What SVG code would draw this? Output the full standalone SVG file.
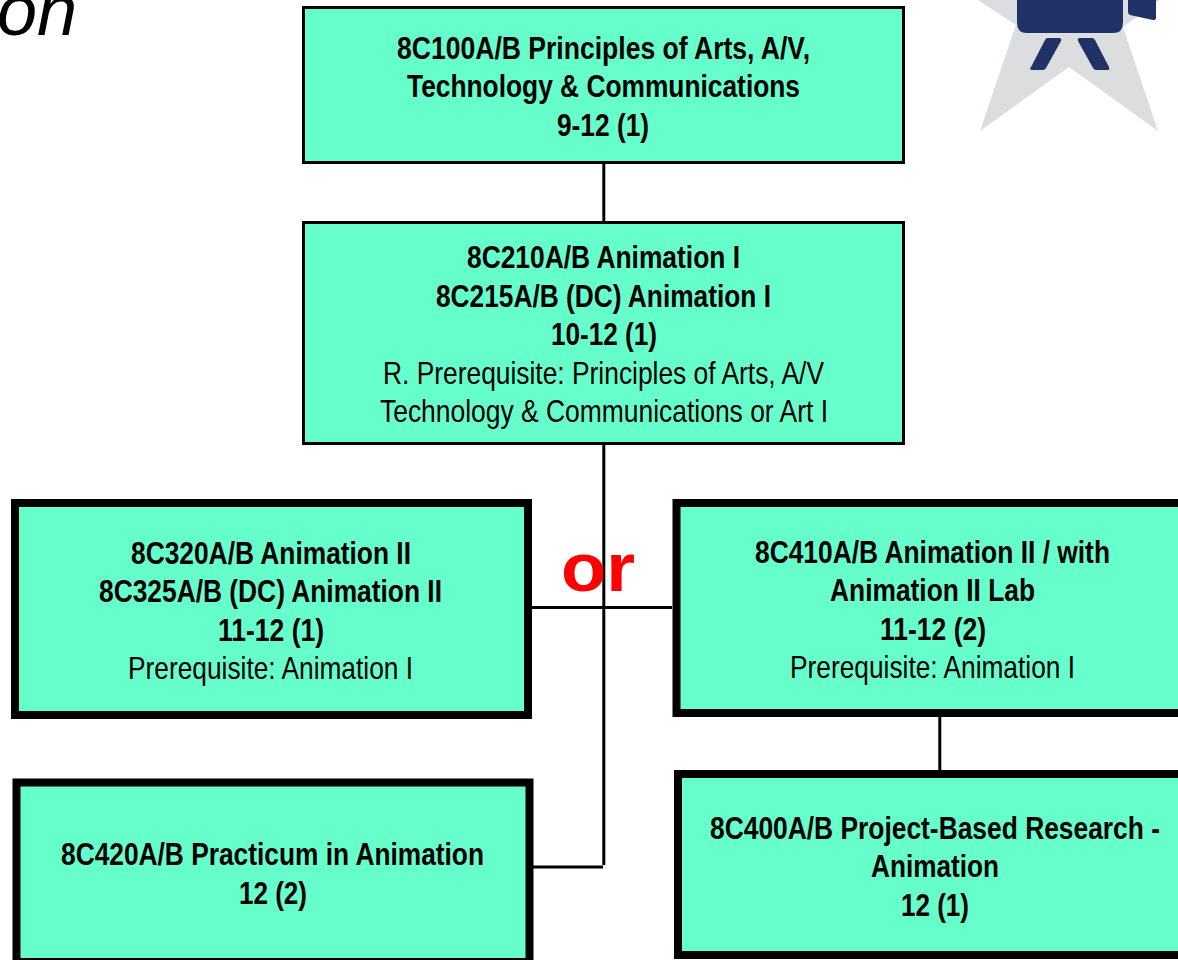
<svg xmlns="http://www.w3.org/2000/svg" width="1178" height="960" viewBox="0 0 1178 960">
<style>
.box{fill:#66ffcc;stroke:#000}
.thin{stroke-width:3}
.thick{stroke-width:8}
.conn{stroke:#000;stroke-width:3;fill:none}
.logo{fill:#203268}
text{font-family:"Liberation Sans",Arial,sans-serif;font-size:32px;fill:#000}
.b{font-weight:700}
</style>
<rect width="1178" height="960" fill="#fff"/>
<text x="-3" y="35" style="font-size:72px;font-style:italic">on</text>
<g id="logo">
<polygon points="978,0 1016,25 980,131 1069,67 1158,131 1123,27 1160,0" fill="#dcddde"/>
<path class="logo" d="M1017,0H1123V23Q1123,33 1113,33H1027Q1017,33 1017,23Z"/>
<path class="logo" d="M1128,0H1156V18Q1156,20 1153,20L1130,15Q1128,14 1128,12Z"/>
<path class="logo" d="M1047,38H1059Q1062,38 1061,41L1046,68Q1045,70 1043,70H1032Q1029,70 1031,67L1045,40Q1046,38 1047,38Z"/>
<path class="logo" d="M1080,38H1092Q1094,38 1095,40L1109,67Q1110,70 1108,70H1096Q1094,70 1093,68L1078,41Q1077,38 1080,38Z"/>
</g>
<g id="connectors">
<path class="conn" d="M603.800,164V221"/>
<path class="conn" d="M603.800,445V865"/>
<path class="conn" d="M532,607.500H672"/>
<path class="conn" d="M533,867H603"/>
<path class="conn" d="M939.800,717V770"/>
</g>
<g id="n100">
<rect class="box thin" x="303.500" y="7.500" width="600" height="155"/>
<text class="b" x="397" y="59" textLength="413" lengthAdjust="spacingAndGlyphs">8C100A/B Principles of Arts, A/V,</text>
<text class="b" x="407" y="97" textLength="393" lengthAdjust="spacingAndGlyphs">Technology &amp; Communications</text>
<text class="b" x="557" y="136" textLength="92" lengthAdjust="spacingAndGlyphs">9-12 (1)</text>
</g>
<g id="n210">
<rect class="box thin" x="303.500" y="222.500" width="600" height="221"/>
<text class="b" x="467" y="268" textLength="273" lengthAdjust="spacingAndGlyphs">8C210A/B Animation I</text>
<text class="b" x="436" y="307" textLength="335" lengthAdjust="spacingAndGlyphs">8C215A/B (DC) Animation I</text>
<text class="b" x="551" y="345" textLength="106" lengthAdjust="spacingAndGlyphs">10-12 (1)</text>
<text x="383" y="384" textLength="441" lengthAdjust="spacingAndGlyphs">R. Prerequisite: Principles of Arts, A/V</text>
<text x="380" y="422" textLength="448" lengthAdjust="spacingAndGlyphs">Technology &amp; Communications or Art I</text>
</g>
<g id="n320">
<rect class="box thick" x="15" y="503" width="513" height="212"/>
<text class="b" x="131" y="564" textLength="280" lengthAdjust="spacingAndGlyphs">8C320A/B Animation II</text>
<text class="b" x="99" y="602" textLength="343" lengthAdjust="spacingAndGlyphs">8C325A/B (DC) Animation II</text>
<text class="b" x="218" y="641" textLength="106" lengthAdjust="spacingAndGlyphs">11-12 (1)</text>
<text x="128" y="679" textLength="285" lengthAdjust="spacingAndGlyphs">Prerequisite: Animation I</text>
</g>
<g id="n410">
<path class="box thick" d="M1178,503H676.500V713H1178"/>
<text class="b" x="755" y="563" textLength="355" lengthAdjust="spacingAndGlyphs">8C410A/B Animation II / with</text>
<text class="b" x="830" y="601" textLength="205" lengthAdjust="spacingAndGlyphs">Animation II Lab</text>
<text class="b" x="880" y="640" textLength="106" lengthAdjust="spacingAndGlyphs">11-12 (2)</text>
<text x="790" y="678" textLength="285" lengthAdjust="spacingAndGlyphs">Prerequisite: Animation I</text>
</g>
<g id="n420">
<rect class="box thick" x="16.500" y="782.500" width="513" height="179.500"/>
<text class="b" x="61" y="865" textLength="423" lengthAdjust="spacingAndGlyphs">8C420A/B Practicum in Animation</text>
<text class="b" x="239" y="904" textLength="68" lengthAdjust="spacingAndGlyphs">12 (2)</text>
</g>
<g id="n400">
<path class="box thick" d="M1178,774H678V955H1178"/>
<text class="b" x="710" y="839" textLength="450" lengthAdjust="spacingAndGlyphs">8C400A/B Project-Based Research -</text>
<text class="b" x="871" y="877" textLength="128" lengthAdjust="spacingAndGlyphs">Animation</text>
<text class="b" x="901" y="916" textLength="68" lengthAdjust="spacingAndGlyphs">12 (1)</text>
</g>
<text class="b" x="561" y="591" textLength="74" lengthAdjust="spacingAndGlyphs" style="font-size:68px;fill:#ff0000">or</text>
</svg>
